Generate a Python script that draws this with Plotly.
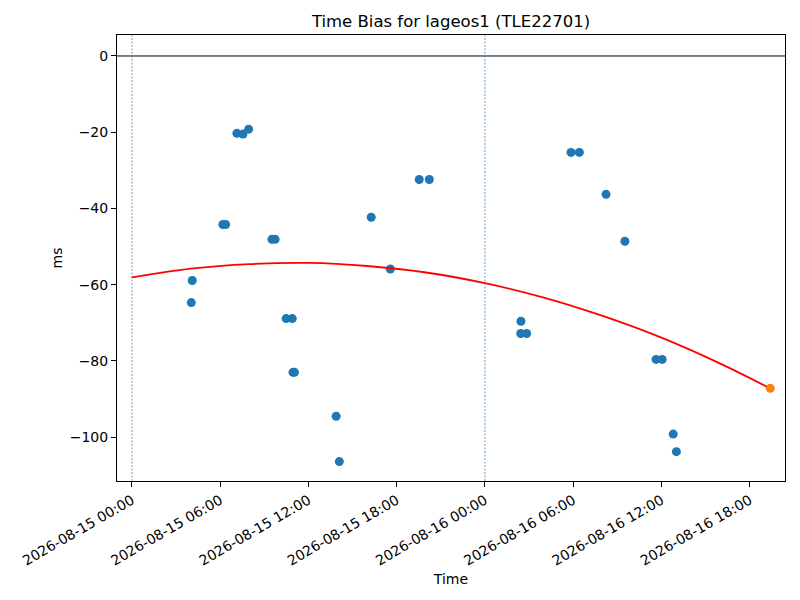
import plotly.graph_objects as go

# measured time bias points
obs_times = [
    "2026-08-15 04:06", "2026-08-15 04:02", "2026-08-15 06:11", "2026-08-15 06:22",
    "2026-08-15 07:08", "2026-08-15 07:33", "2026-08-15 07:56", "2026-08-15 09:31",
    "2026-08-15 09:44", "2026-08-15 10:29", "2026-08-15 10:54", "2026-08-15 10:57",
    "2026-08-15 11:03", "2026-08-15 13:53", "2026-08-15 14:06", "2026-08-15 16:16",
    "2026-08-15 17:34", "2026-08-15 19:32", "2026-08-15 20:13", "2026-08-16 02:26",
    "2026-08-16 02:27", "2026-08-16 02:50", "2026-08-16 05:51", "2026-08-16 06:25",
    "2026-08-16 08:14", "2026-08-16 09:31", "2026-08-16 11:38", "2026-08-16 12:03",
    "2026-08-16 12:48", "2026-08-16 13:01",
]
obs_bias = [
    -58.9, -64.7, -44.2, -44.2,
    -20.3, -20.5, -19.2, -48.1,
    -48.1, -68.9, -68.9, -83.0,
    -83.0, -94.5, -106.4, -42.3,
    -55.9, -32.4, -32.4, -72.8,
    -69.6, -72.8, -25.3, -25.3,
    -36.3, -48.6, -79.6, -79.6,
    -99.2, -103.8,
]

# fitted curve
fit_times = [
    "2026-08-15 00:00", "2026-08-15 04:00", "2026-08-15 08:00", "2026-08-15 12:00",
    "2026-08-15 16:00", "2026-08-15 20:00", "2026-08-16 00:00", "2026-08-16 04:00",
    "2026-08-16 08:00", "2026-08-16 12:00", "2026-08-16 16:00", "2026-08-16 19:24",
]
fit_bias = [-58.1, -55.8, -54.6, -54.3, -55.1, -56.8, -59.6, -63.4, -68.2, -73.9, -80.7, -87.2]

# extrapolated end point
end_time = ["2026-08-16 19:24"]
end_bias = [-87.2]

day_marks = ["2026-08-15 00:00", "2026-08-16 00:00"]

fig = go.Figure()

fig.add_trace(go.Scatter(
    x=obs_times, y=obs_bias,
    mode='markers',
    marker=dict(color='#1f77b4', size=9),
    name='bias'
))

fig.add_trace(go.Scatter(
    x=fit_times, y=fit_bias,
    mode='lines',
    line=dict(color='red', width=1.8, shape='spline'),
    name='fit'
))

fig.add_trace(go.Scatter(
    x=end_time, y=end_bias,
    mode='markers',
    marker=dict(color='#ff7f0e', size=9),
    name='end'
))

fig.add_hline(y=0, line=dict(color='black', width=1))
for d in day_marks:
    fig.add_vline(x=d, line=dict(color='#1f77b4', width=0.7, dash='2px,1.5px'))

axis_style = dict(
    showline=True, linecolor='black', linewidth=1, mirror=True,
    ticks='outside', ticklen=5, tickcolor='black',
    showgrid=False, zeroline=False, automargin=False,
    tickfont=dict(size=14, color='black'),
)

# page body adds an 8px offset, margins account for it
fig.update_layout(
    width=800, height=600,
    showlegend=False,
    font=dict(family='DejaVu Sans', color='black'),
    title=dict(text='Time Bias for lageos1 (TLE22701)', x=0.5, xanchor='center',
               xref='paper', y=0.978, yanchor='middle', font=dict(size=16.5)),
    margin=dict(l=109, r=23, t=27, b=127),
    plot_bgcolor='white',
    paper_bgcolor='white',
    xaxis=dict(
        title=dict(text='Time', font=dict(size=14), standoff=6),
        range=["2026-08-14 22:59", "2026-08-16 20:24"],
        dtick=6 * 3600 * 1000,
        tick0="2026-08-15 00:00",
        tickformat='%Y-%m-%d %H:%M',
        tickangle=-30,
        **axis_style
    ),
    yaxis=dict(
        title=dict(text='ms', font=dict(size=14), standoff=3),
        range=[-111.5, 5.5],
        dtick=20,
        **axis_style
    ),
)

fig.write_html("out.html")
